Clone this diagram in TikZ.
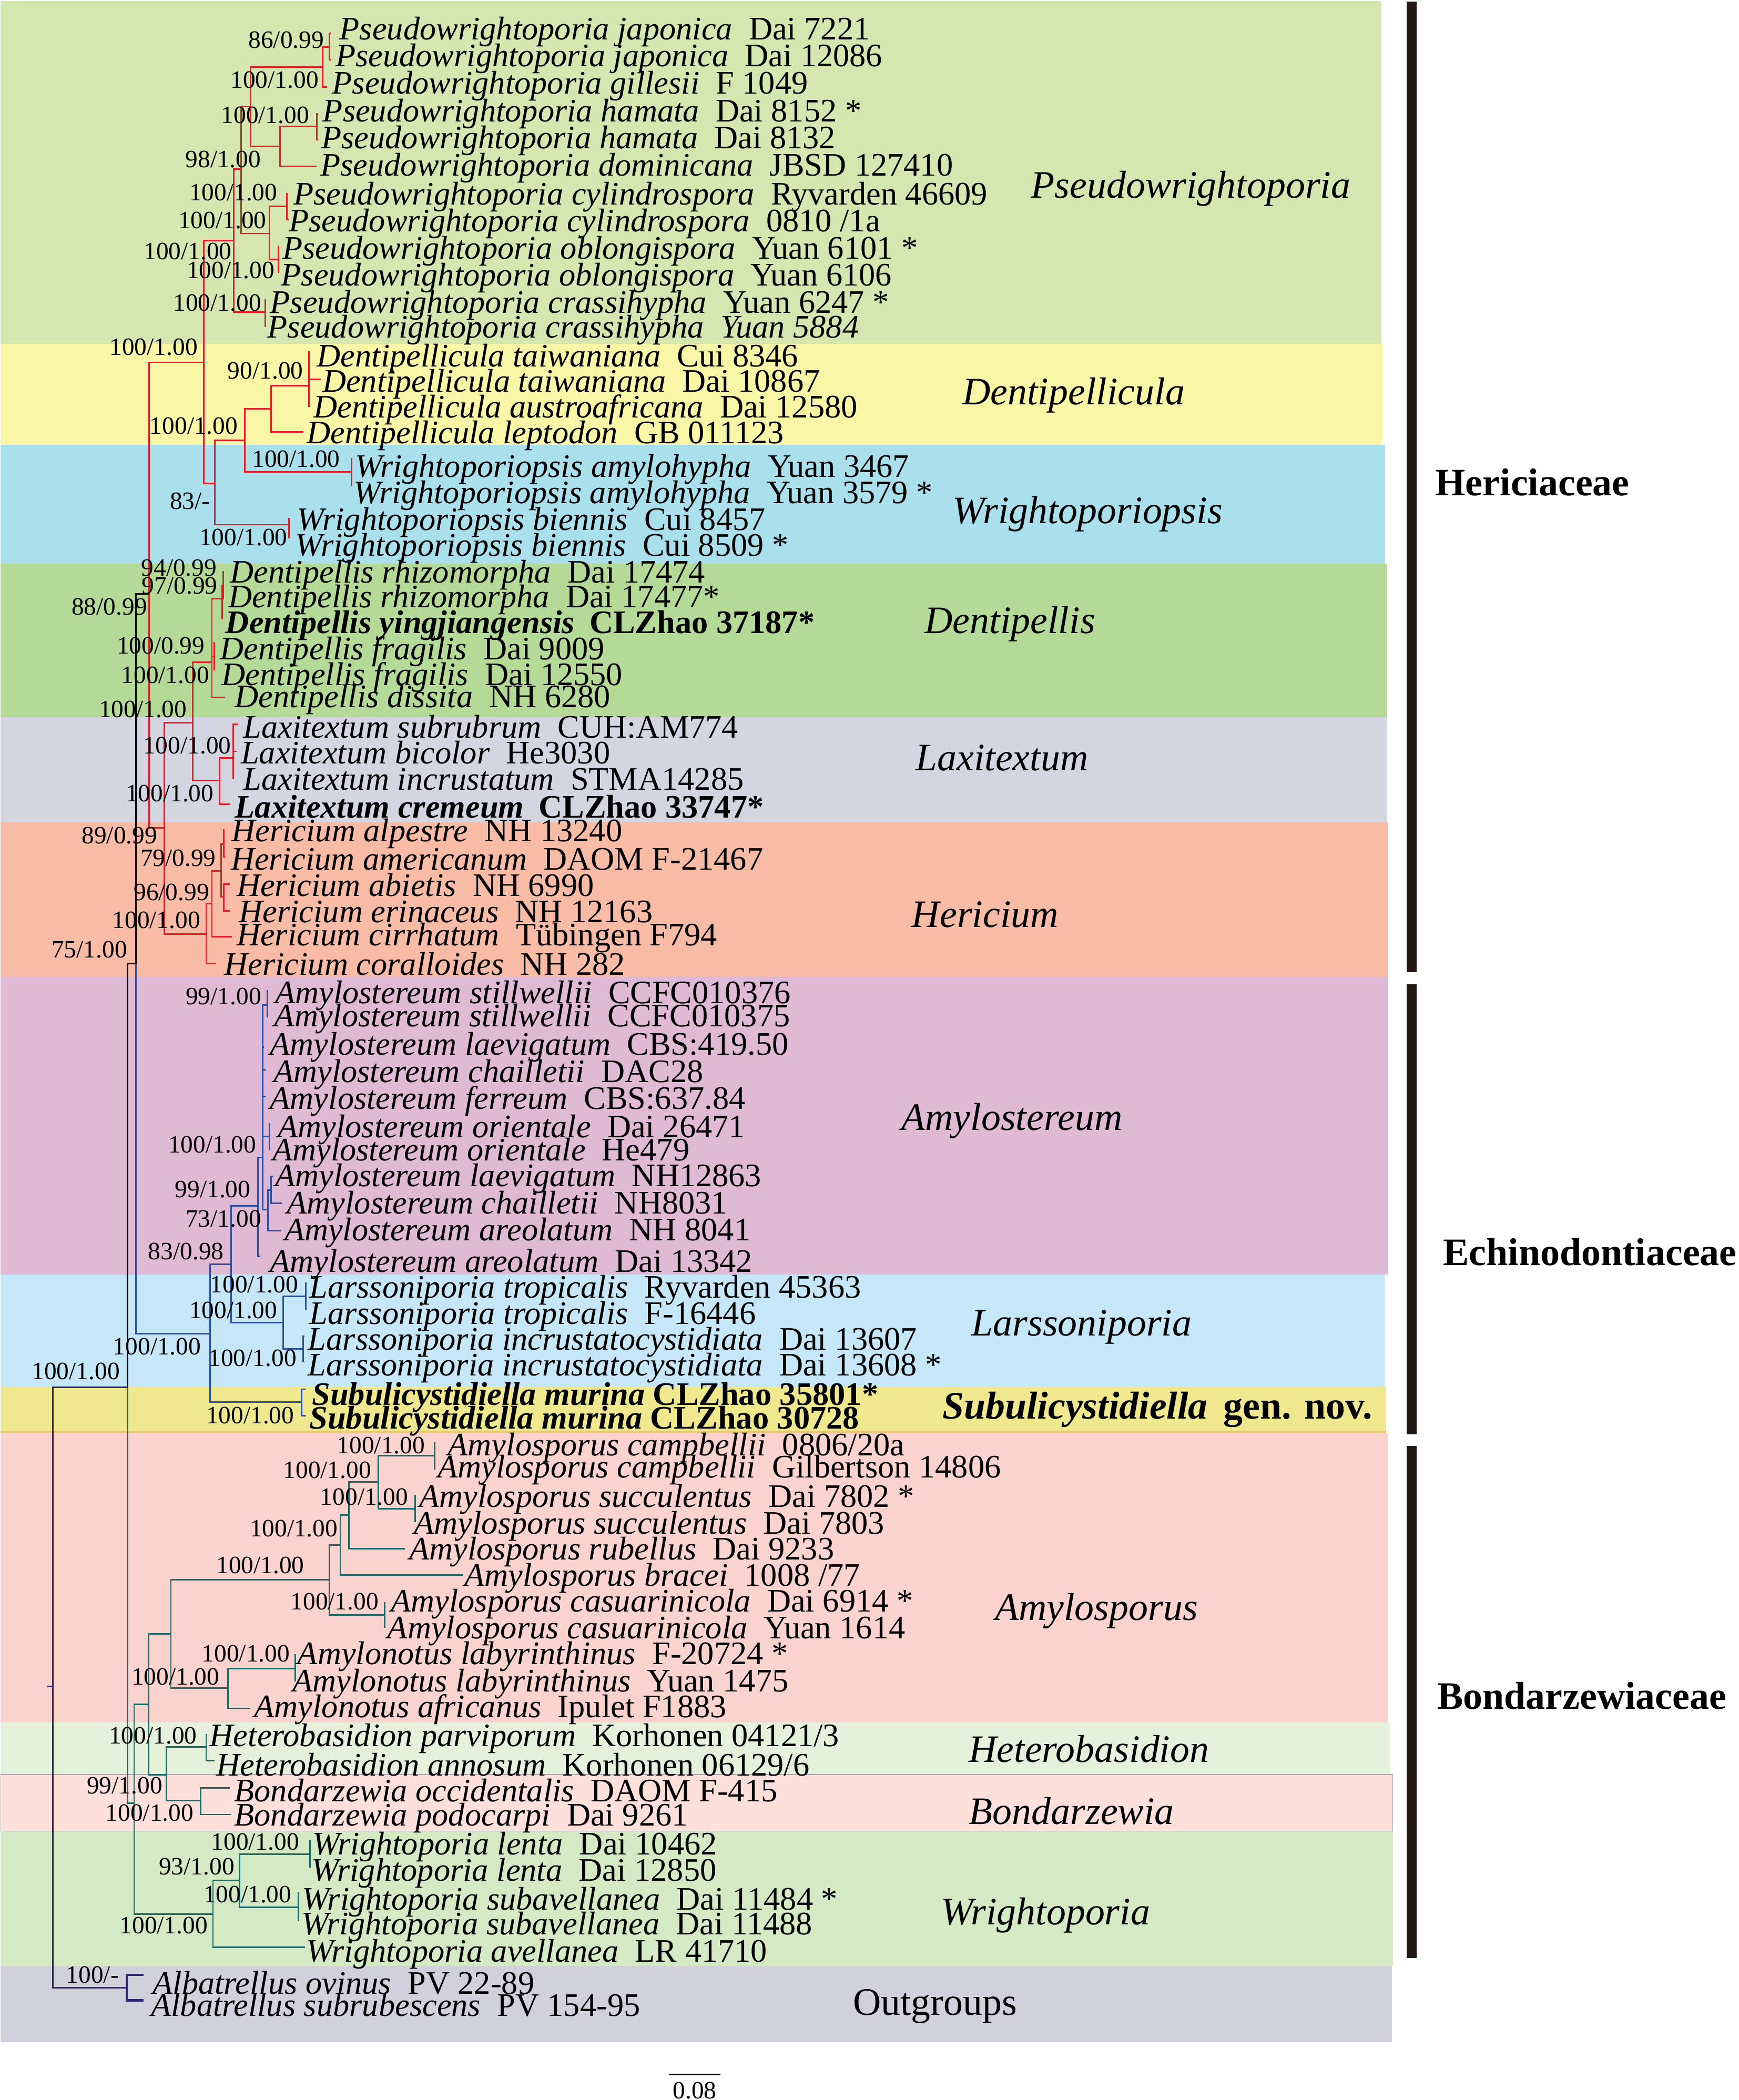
\documentclass[tikz,border=0pt]{standalone}
\usepackage{fontspec}
\setmainfont{Liberation Serif}
\definecolor{cPse}{RGB}{213,230,176}
\definecolor{cDc}{RGB}{249,246,168}
\definecolor{cWo}{RGB}{170,223,236}
\definecolor{cDp}{RGB}{181,218,152}
\definecolor{cLx}{RGB}{211,214,224}
\definecolor{cHr}{RGB}{248,187,165}
\definecolor{cAm}{RGB}{224,185,213}
\definecolor{cLs}{RGB}{198,231,247}
\definecolor{cSu}{RGB}{239,232,143}
\definecolor{cAp}{RGB}{250,211,207}
\definecolor{cHt}{RGB}{230,241,219}
\definecolor{cBz}{RGB}{252,224,217}
\definecolor{cWr}{RGB}{211,234,197}
\definecolor{cOg}{RGB}{208,209,219}
\definecolor{bred}{RGB}{228,30,38}
\definecolor{bblue}{RGB}{45,80,165}
\definecolor{bteal}{RGB}{30,105,102}
\definecolor{bpurp}{RGB}{48,40,112}
\definecolor{barc}{RGB}{35,24,21}
\newcommand\tx[2]{\textit{#1}\hspace{0.5em}#2}
\newcommand\btx[2]{\textbf{\textit{#1}}\hspace{0.45em}\textbf{#2}}
\begin{document}
\begin{tikzpicture}[x=1pt,y=-1pt,
  taxon/.style={anchor=west,inner sep=0pt,font=\fontsize{24.5}{26}\selectfont},
  suplab/.style={anchor=east,inner sep=0pt,font=\fontsize{18.6}{20}\selectfont},
  genus/.style={inner sep=0pt,font=\fontsize{29}{31}\selectfont\itshape},
  fam/.style={inner sep=0pt,font=\fontsize{29}{31}\selectfont\bfseries},
  br/.style={line width=1.15pt}]
\useasboundingbox (0,0) rectangle (1298,1568);
\fill[white] (0,0) rectangle (1298,1568);
% bands
\fill[cPse] (0.5,0.8) rectangle (1031.2,256.7);
\fill[cDc] (0.5,256.7) rectangle (1032,332.2);
\fill[cWo] (0.5,332.2) rectangle (1034,420.7);
\fill[cDp] (0.5,420.7) rectangle (1035.5,535.6);
\fill[cLx] (0.5,535.6) rectangle (1035.5,613.9);
\fill[cHr] (0.5,613.9) rectangle (1036.5,729.2);
\fill[cAm] (0.5,729.2) rectangle (1036.5,951.8);
\fill[cLs] (0.5,951.8) rectangle (1033.5,1035.3);
\fill[cSu] (0.5,1035.3) rectangle (1035,1069.6);
\draw[line width=1.2pt,color={rgb,255:red,232;green,200;blue,110}] (0.5,1069) -- (1035,1069);
\fill[cAp] (0.5,1069.6) rectangle (1036.4,1286.2);
\fill[cHt] (0.5,1286.2) rectangle (1037.5,1325);
\filldraw[fill=cBz,draw=gray!70,line width=0.5pt] (0.5,1325) rectangle (1039.8,1367.4);
\fill[cWr] (0.5,1367.4) rectangle (1039.8,1468);
\fill[cOg] (0.5,1468) rectangle (1039,1524.9);
% family bars
\fill[barc] (1050,1) rectangle (1057.5,726);
\fill[barc] (1050,735) rectangle (1057.5,1071);
\fill[barc] (1050,1079.6) rectangle (1057.5,1462);
\node[fam] (fH) at (1144,360) {Hericiaceae};
\node[fam] (fE) at (1187,935) {Echinodontiaceae};
\node[fam] (fB) at (1181,1266) {Bondarzewiaceae};
% genus labels
\node[genus] (gPse) at (889,141) {Pseudowrightoporia};
\node[genus] (gDc) at (801.5,295) {Dentipellicula};
\node[genus] (gWo) at (812,384) {Wrightoporiopsis};
\node[genus] (gDp) at (754,466) {Dentipellis};
\node[genus] (gLx) at (748,566) {Laxitextum};
\node[genus] (gHr) at (735.5,683) {Hericium};
\node[genus] (gAm) at (755.5,837) {Amylostereum};
\node[genus] (gLs) at (807.5,991) {Larssoniporia};
\node[inner sep=0pt,font=\fontsize{29}{31}\selectfont\bfseries] (gSu) at (864,1052.5) {\textit{Subulicystidiella}\hspace{0.4em}gen. nov.};
\node[genus] (gAp) at (818.5,1203) {Amylosporus};
\node[genus] (gHt) at (813,1306) {Heterobasidion};
\node[genus] (gBz) at (800,1352) {Bondarzewia};
\node[genus] (gWr) at (780.5,1430) {Wrightoporia};
\node[inner sep=0pt,font=\fontsize{29}{31}\selectfont] (gOg) at (698,1498) {Outgroups};
% ---------- tree coordinates ----------
\coordinate (E) at (152,270.5);
\coordinate (D) at (174.5,179.6);
\coordinate (B) at (180,126.2);
\coordinate (A) at (187.2,79.7);
\coordinate (p123) at (241,50);
\coordinate (p12) at (245.8,35);
\coordinate (c1) at (247,25);
\coordinate (c2) at (247.5,44.7);
\coordinate (c3) at (244,65);
\coordinate (p456) at (209,109.5);
\coordinate (p45) at (236.5,94.6);
\coordinate (c4) at (237.5,85);
\coordinate (c5) at (237.5,104.3);
\coordinate (c6) at (236.5,124.4);
\coordinate (C) at (201,174.3);
\coordinate (p78) at (214,154.2);
\coordinate (c7) at (214.8,144.6);
\coordinate (c8) at (215.5,163.8);
\coordinate (p910) at (207.7,193.6);
\coordinate (c9) at (208.3,184);
\coordinate (c10) at (208.3,203.3);
\coordinate (p1112) at (198,233);
\coordinate (c11) at (198.6,224);
\coordinate (c12) at (198.6,243.6);
\coordinate (F) at (160.2,360.8);
\coordinate (H) at (182.7,328.7);
\coordinate (Dc) at (202.2,305.4);
\coordinate (p1315) at (230.8,287.9);
\coordinate (c13) at (231.5,263);
\coordinate (c14) at (239.5,283.1);
\coordinate (c15) at (231.5,303.3);
\coordinate (c16) at (226.5,322.6);
\coordinate (wa) at (262.3,352.3);
\coordinate (c17) at (263,342.7);
\coordinate (c18) at (263,362);
\coordinate (wb) at (215.8,391.8);
\coordinate (c19) at (216.5,387.4);
\coordinate (c20) at (216.5,401.4);
\coordinate (G) at (111.4,443.5);
\coordinate (J) at (101.4,719.6);
\coordinate (I) at (122.6,618);
\coordinate (K) at (143.9,539.6);
\coordinate (Dp) at (158.2,494.3);
\coordinate (p2123) at (165.7,447);
\coordinate (p2122) at (166.5,437);
\coordinate (c21) at (167.2,426.8);
\coordinate (c22) at (167.2,447);
\coordinate (c23) at (166.5,461.9);
\coordinate (pfr) at (159.8,490);
\coordinate (c24) at (160.6,480);
\coordinate (c25) at (160.6,500);
\coordinate (c26) at (168.2,520.7);
\coordinate (Lx) at (164,582.9);
\coordinate (p2729) at (174,565.9);
\coordinate (c27) at (178,540.9);
\coordinate (c28) at (176.5,561);
\coordinate (c29) at (174.6,581.2);
\coordinate (c30) at (171.5,600.4);
\coordinate (Hr) at (153.9,697.3);
\coordinate (h2) at (158.2,674.6);
\coordinate (h3) at (165.2,650.4);
\coordinate (h3132) at (167.2,630.2);
\coordinate (c31) at (167.8,619.7);
\coordinate (c32) at (168.3,639.9);
\coordinate (h3334) at (167,669.7);
\coordinate (c33) at (171.5,660);
\coordinate (c34) at (171.5,680.2);
\coordinate (c35) at (173.2,699.4);
\coordinate (c36) at (161.4,719.6);
\coordinate (L) at (95.1,1035.9);
\coordinate (U) at (157,995.8);
\coordinate (V) at (172.7,944.1);
\coordinate (Am0) at (192.7,900.3);
\coordinate (Am1) at (196.2,864.4);
\coordinate (st) at (199.5,750.3);
\coordinate (c37) at (200.2,739.7);
\coordinate (c38) at (200.2,759);
\coordinate (c39) at (197,782);
\coordinate (c40) at (198.8,798.8);
\coordinate (c41) at (198.8,818.8);
\coordinate (ori) at (201,848.6);
\coordinate (c42) at (201.6,839);
\coordinate (c43) at (201.6,858.3);
\coordinate (Am2) at (200.2,903);
\coordinate (p4445) at (202.5,888.6);
\coordinate (c44) at (204,878.4);
\coordinate (c45) at (210.3,898.6);
\coordinate (c46) at (209.7,918.7);
\coordinate (c47) at (194.5,938);
\coordinate (Ls) at (211.5,987.6);
\coordinate (lt) at (228.3,967.8);
\coordinate (c48) at (229,958.1);
\coordinate (c49) at (229,977.4);
\coordinate (li) at (226.5,1007.2);
\coordinate (c50) at (227.2,997.6);
\coordinate (c51) at (227.2,1016.8);
\coordinate (su) at (225.3,1046.8);
\coordinate (c52) at (228.3,1037.2);
\coordinate (c53) at (228.3,1057);
\coordinate (M) at (100.1,1346.4);
\coordinate (N) at (110.9,1272.5);
\coordinate (O) at (127.6,1219.9);
\coordinate (P) at (246,1179.6);
\coordinate (Q) at (254,1153.7);
\coordinate (S) at (260.3,1131.2);
\coordinate (T) at (282.3,1106.4);
\coordinate (camp) at (324.6,1086.7);
\coordinate (c54) at (325.2,1077.4);
\coordinate (c55) at (325.2,1096.7);
\coordinate (succ) at (309.9,1126.5);
\coordinate (c56) at (310.5,1116.5);
\coordinate (c57) at (310.5,1136.1);
\coordinate (c58) at (302.4,1156.3);
\coordinate (c59) at (345.4,1176.1);
\coordinate (casu) at (287.3,1205.9);
\coordinate (c60) at (287.9,1196.6);
\coordinate (c61) at (287.9,1215);
\coordinate (an) at (170.2,1260.5);
\coordinate (lab) at (220.3,1245.7);
\coordinate (c62) at (220.9,1235.7);
\coordinate (c63) at (220.9,1255);
\coordinate (c64) at (186.5,1275.5);
\coordinate (HB) at (124.4,1325);
\coordinate (het) at (153.9,1304.5);
\coordinate (c65) at (154.5,1295.2);
\coordinate (c66) at (160.2,1314.7);
\coordinate (bon) at (149.7,1344.5);
\coordinate (c67) at (171.5,1334.8);
\coordinate (c68) at (172.7,1354.8);
\coordinate (Wr) at (159,1429.2);
\coordinate (w2) at (179,1404.1);
\coordinate (len) at (231.5,1384.5);
\coordinate (c69) at (232.1,1374.3);
\coordinate (c70) at (232.1,1393.9);
\coordinate (sba) at (222.8,1424.2);
\coordinate (c71) at (223.4,1413.4);
\coordinate (c72) at (223.4,1433.9);
\coordinate (c73) at (227.8,1454);
\coordinate (R) at (39.3,1259.2);
\coordinate (R0) at (35.5,1259.2);
\coordinate (Al) at (94.6,1484.2);
\coordinate (c74) at (107.1,1474.5);
\coordinate (c75) at (107.1,1493.5);
% ---------- branches ----------
\foreach \p/\c in {E/D,D/B,B/A,A/p123,p123/p12,p12/c1,p12/c2,p123/c3,A/p456,p456/p45,p45/c4,p45/c5,p456/c6,
  B/C,C/p78,p78/c7,p78/c8,C/p910,p910/c9,p910/c10,D/p1112,p1112/c11,p1112/c12,
  E/F,F/H,H/Dc,Dc/p1315,p1315/c13,p1315/c14,p1315/c15,Dc/c16,H/wa,wa/c17,wa/c18,F/wb,wb/c19,wb/c20,
  G/E,G/I,I/K,K/Dp,Dp/p2123,p2123/p2122,p2122/c21,p2122/c22,p2123/c23,Dp/pfr,pfr/c24,pfr/c25,Dp/c26,
  K/Lx,Lx/p2729,p2729/c27,p2729/c28,p2729/c29,Lx/c30,
  I/Hr,Hr/h2,h2/h3,h3/h3132,h3132/c31,h3132/c32,h3/h3334,h3334/c33,h3334/c34,h2/c35,Hr/c36}
  \draw[br,bred] (\p) |- (\c);
\foreach \p/\c in {J/G,L/J}
  \draw[br,black] (\p) |- (\c);
\foreach \p/\c in {J/U,U/V,V/Am0,Am0/Am1,Am1/st,st/c37,st/c38,Am1/c39,Am1/c40,Am1/c41,Am1/ori,ori/c42,ori/c43,
  Am1/Am2,Am2/p4445,p4445/c44,p4445/c45,Am2/c46,Am0/c47,V/Ls,Ls/lt,lt/c48,lt/c49,Ls/li,li/c50,li/c51,U/su,su/c52,su/c53}
  \draw[br,bblue] (\p) |- (\c);
\foreach \p/\c in {L/M,M/N,N/O,O/P,P/Q,Q/S,S/T,T/camp,camp/c54,camp/c55,T/succ,succ/c56,succ/c57,S/c58,Q/c59,
  P/casu,casu/c60,casu/c61,O/an,an/lab,lab/c62,lab/c63,an/c64,N/HB,HB/het,het/c65,het/c66,HB/bon,bon/c67,bon/c68,
  M/Wr,Wr/w2,w2/len,len/c69,len/c70,w2/sba,sba/c71,sba/c72,Wr/c73}
  \draw[br,bteal] (\p) |- (\c);
\foreach \p/\c in {R0/R,R/L,R/Al}
  \draw[br,bpurp] (\p) |- (\c);
\foreach \p/\c in {Al/c74,Al/c75}
  \draw[line width=1.8pt,bpurp] (\p) |- (\c);
% ---------- taxa ----------
\node[taxon] (t1) at (253.3,23.7) {\tx{Pseudowrightoporia japonica}{Dai 7221}};
\node[taxon] (t2) at (250.3,43.8) {\tx{Pseudowrightoporia japonica}{Dai 12086}};
\node[taxon] (t3) at (247.8,64) {\tx{Pseudowrightoporia gillesii}{F 1049}};
\node[taxon] (t4) at (240.8,85) {\tx{Pseudowrightoporia hamata}{Dai 8152 *}};
\node[taxon] (t5) at (239.8,105) {\tx{Pseudowrightoporia hamata}{Dai 8132}};
\node[taxon] (t6) at (239,125.3) {\tx{Pseudowrightoporia dominicana}{JBSD 127410}};
\node[taxon] (t7) at (219,147) {\tx{Pseudowrightoporia cylindrospora}{Ryvarden 46609}};
\node[taxon] (t8) at (215.5,167) {\tx{Pseudowrightoporia cylindrospora}{0810 /1a}};
\node[taxon] (t9) at (210.7,187.5) {\tx{Pseudowrightoporia oblongispora}{Yuan 6101 *}};
\node[taxon] (t10) at (209.7,207.6) {\tx{Pseudowrightoporia oblongispora}{Yuan 6106}};
\node[taxon] (t11) at (201.5,227.8) {\tx{Pseudowrightoporia crassihypha}{Yuan 6247 *}};
\node[taxon] (t12) at (199.5,246.2) {\tx{Pseudowrightoporia crassihypha}{\textit{Yuan 5884}}};
\node[taxon] (t13) at (236.5,268) {\tx{Dentipellicula taiwaniana}{Cui 8346}};
\node[taxon] (t14) at (240.5,286.6) {\tx{Dentipellicula taiwaniana}{Dai 10867}};
\node[taxon] (t15) at (234,306) {\tx{Dentipellicula austroafricana}{Dai 12580}};
\node[taxon] (t16) at (229,325.2) {\tx{Dentipellicula leptodon}{GB 011123}};
\node[taxon] (t17) at (264.8,350.6) {\tx{Wrightoporiopsis amylohypha}{Yuan 3467}};
\node[taxon] (t18) at (264,369.9) {\tx{Wrightoporiopsis amylohypha}{Yuan 3579 *}};
\node[taxon] (t19) at (221.5,390) {\tx{Wrightoporiopsis biennis}{Cui 8457}};
\node[taxon] (t20) at (220.3,409.3) {\tx{Wrightoporiopsis biennis}{Cui 8509 *}};
\node[taxon] (t21) at (171.5,429.4) {\tx{Dentipellis rhizomorpha}{Dai 17474}};
\node[taxon] (t22) at (170.2,447.8) {\tx{Dentipellis rhizomorpha}{Dai 17477*}};
\node[taxon] (t23) at (168.2,467.1) {\btx{Dentipellis yingjiangensis}{CLZhao 37187*}};
\node[taxon] (t24) at (164,486.4) {\tx{Dentipellis fragilis}{Dai 9009}};
\node[taxon] (t25) at (165.2,505.7) {\tx{Dentipellis fragilis}{Dai 12550}};
\node[taxon] (t26) at (175.2,522.5) {\tx{Dentipellis dissita}{NH 6280}};
\node[taxon] (t27) at (181.5,542.6) {\tx{Laxitextum subrubrum}{CUH:AM774}};
\node[taxon] (t28) at (179.7,561.9) {\tx{Laxitextum bicolor}{He3030}};
\node[taxon] (t29) at (181.5,582) {\tx{Laxitextum incrustatum}{STMA14285}};
\node[taxon] (t30) at (175.2,602.2) {\btx{Laxitextum cremeum}{CLZhao 33747*}};
\node[taxon] (t31) at (172.7,622.3) {\tx{Hericium alpestre}{NH 13240}};
\node[taxon] (t32) at (172.2,641.6) {\tx{Hericium americanum}{DAOM F-21467}};
\node[taxon] (t33) at (176.5,660.9) {\tx{Hericium abietis}{NH 6990}};
\node[taxon] (t34) at (178.2,681) {\tx{Hericium erinaceus}{NH 12163}};
\node[taxon] (t35) at (176.5,700.3) {\tx{Hericium cirrhatum}{Tübingen F794}};
\node[taxon] (t36) at (167.2,719.6) {\tx{Hericium coralloides}{NH 282}};
\node[taxon] (t37) at (205.2,743.2) {\tx{Amylostereum stillwellii}{CCFC010376}};
\node[taxon] (t38) at (204.7,760.8) {\tx{Amylostereum stillwellii}{CCFC010375}};
\node[taxon] (t39) at (201.5,782) {\tx{Amylostereum laevigatum}{CBS:419.50}};
\node[taxon] (t40) at (204,802.2) {\tx{Amylostereum chailletii}{DAC28}};
\node[taxon] (t41) at (201.5,822.3) {\tx{Amylostereum ferreum}{CBS:637.84}};
\node[taxon] (t42) at (207.2,843.4) {\tx{Amylostereum orientale}{Dai 26471}};
\node[taxon] (t43) at (203.2,860.9) {\tx{Amylostereum orientale}{He479}};
\node[taxon] (t44) at (205.2,880.2) {\tx{Amylostereum laevigatum}{NH12863}};
\node[taxon] (t45) at (214,900.3) {\tx{Amylostereum chailletii}{NH8031}};
\node[taxon] (t46) at (212.2,920.5) {\tx{Amylostereum areolatum}{NH 8041}};
\node[taxon] (t47) at (201.5,944.1) {\tx{Amylostereum areolatum}{Dai 13342}};
\node[taxon] (t48) at (230.8,963.4) {\tx{Larssoniporia tropicalis}{Ryvarden 45363}};
\node[taxon] (t49) at (230.8,982.7) {\tx{Larssoniporia tropicalis}{F-16446}};
\node[taxon] (t50) at (229.8,1002) {\tx{Larssoniporia incrustatocystidiata}{Dai 13607}};
\node[taxon] (t51) at (229.8,1021.2) {\tx{Larssoniporia incrustatocystidiata}{Dai 13608 *}};
\node[taxon] (t52) at (232.8,1043.3) {\textbf{\textit{Subulicystidiella murina} CLZhao 35801*}};
\node[taxon] (t53) at (230.8,1060.8) {\textbf{\textit{Subulicystidiella murina} CLZhao 30728}};
\node[taxon] (t54) at (334.2,1081) {\tx{Amylosporus campbellii}{0806/20a}};
\node[taxon] (t55) at (326.5,1097.6) {\tx{Amylosporus campbellii}{Gilbertson 14806}};
\node[taxon] (t56) at (312.9,1119.5) {\tx{Amylosporus succulentus}{Dai 7802 *}};
\node[taxon] (t57) at (309,1139.6) {\tx{Amylosporus succulentus}{Dai 7803}};
\node[taxon] (t58) at (305.4,1158.9) {\tx{Amylosporus rubellus}{Dai 9233}};
\node[taxon] (t59) at (346.7,1178.2) {\tx{Amylosporus bracei}{1008 /77}};
\node[taxon] (t60) at (291.6,1197.5) {\tx{Amylosporus casuarinicola}{Dai 6914 *}};
\node[taxon] (t61) at (289.1,1217.6) {\tx{Amylosporus casuarinicola}{Yuan 1614}};
\node[taxon] (t62) at (222,1236.9) {\tx{Amylonotus labyrinthinus}{F-20724 *}};
\node[taxon] (t63) at (218.3,1257.1) {\tx{Amylonotus labyrinthinus}{Yuan 1475}};
\node[taxon] (t64) at (189.7,1276.3) {\tx{Amylonotus africanus}{Ipulet F1883}};
\node[taxon] (t65) at (156.4,1298) {\tx{Heterobasidion parviporum}{Korhonen 04121/3}};
\node[taxon] (t66) at (161.4,1317.5) {\tx{Heterobasidion annosum}{Korhonen 06129/6}};
\node[taxon] (t67) at (174.7,1337) {\tx{Bondarzewia occidentalis}{DAOM F-415}};
\node[taxon] (t68) at (174.7,1357.5) {\tx{Bondarzewia podocarpi}{Dai 9261}};
\node[taxon] (t69) at (233,1379) {\tx{Wrightoporia lenta}{Dai 10462}};
\node[taxon] (t70) at (232.5,1398.5) {\tx{Wrightoporia lenta}{Dai 12850}};
\node[taxon] (t71) at (225.3,1420) {\tx{Wrightoporia subavellanea}{Dai 11484 *}};
\node[taxon] (t72) at (224.8,1438.6) {\tx{Wrightoporia subavellanea}{Dai 11488}};
\node[taxon] (t73) at (228.3,1459) {\tx{Wrightoporia avellanea}{LR 41710}};
\node[taxon] (t74) at (113.9,1480.5) {\tx{Albatrellus ovinus}{PV 22-89}};
\node[taxon] (t75) at (112.6,1497.2) {\tx{Albatrellus subrubescens}{PV 154-95}};
% ---------- support values ----------
\foreach \n/\x/\y/\t in {1/242/29.8/86\slash0.99, 2/238/59.6/100\slash1.00, 3/231/85.9/100\slash1.00,
  4/195/119/98\slash1.00, 5/207.2/143.7/100\slash1.00, 6/199/164.7/100\slash1.00, 7/173.2/187.5/100\slash1.00,
  8/205.2/201.9/100\slash1.00, 9/195.2/226/100\slash1.00, 10/147.7/259.3/100\slash1.00, 11/226.5/277/90\slash1.00,
  12/177.7/318.2/100\slash1.00, 13/254/342.7/100\slash1.00, 14/157/374.2/83\slash-, 15/214.7/401.4/100\slash1.00,
  16/162/424.2/94\slash0.99, 17/162.5/437.3/97\slash0.99, 18/110/453.1/88\slash0.99, 19/153/482/100\slash0.99,
  20/156.4/504/100\slash1.00, 21/139.7/529.5/100\slash1.00, 22/172.7/556.6/100\slash1.00, 23/159.7/592.6/100\slash1.00,
  24/117.6/624/89\slash0.99, 25/161.4/640.7/79\slash0.99, 26/156.4/666.1/96\slash0.99, 27/149.7/687.2/100\slash1.00,
  28/95.1/709.1/75\slash1.00, 29/195.2/744.1/99\slash1.00, 30/191.5/854.8/100\slash1.00, 31/187.2/888/99\slash1.00,
  32/195.2/910/73\slash1.00, 33/167.2/934.5/83\slash0.98, 34/222.8/959/100\slash1.00, 35/207.2/978.3/100\slash1.00,
  36/150.2/1005.4/100\slash1.00, 37/221.5/1014.2/100\slash1.00, 38/89.6/1023.8/100\slash1.00, 39/219.8/1057/100\slash1.00,
  40/317.4/1079.2/100\slash1.00, 41/277.3/1097.6/100\slash1.00, 42/304.9/1117.7/100\slash1.00, 43/252.3/1141.4/100\slash1.00,
  44/227.3/1168.6/100\slash1.00, 45/282.8/1195.7/100\slash1.00, 46/216.5/1234.6/100\slash1.00, 47/164/1251.8/100\slash1.00,
  48/147.2/1296.1/100\slash1.00, 49/121.4/1333.3/99\slash1.00, 50/144.7/1353.8/100\slash1.00, 51/223.5/1375.2/100\slash1.00,
  52/175.2/1393.9/93\slash1.00, 53/217.8/1414.4/100\slash1.00, 54/155.2/1437.6/100\slash1.00, 55/88.9/1474.5/100\slash-}
  \node[suplab] (s\n) at (\x,\y) {\t};
% ---------- scale bar ----------
\coordinate (sb1) at (499.5,1549);
\coordinate (sb2) at (537.7,1549);
\draw[line width=1.4pt,black] (sb1) -- (sb2);
\node[inner sep=0pt,font=\fontsize{18.6}{20}\selectfont] (sbl) at (518.6,1561) {0.08};
\end{tikzpicture}
\end{document}
